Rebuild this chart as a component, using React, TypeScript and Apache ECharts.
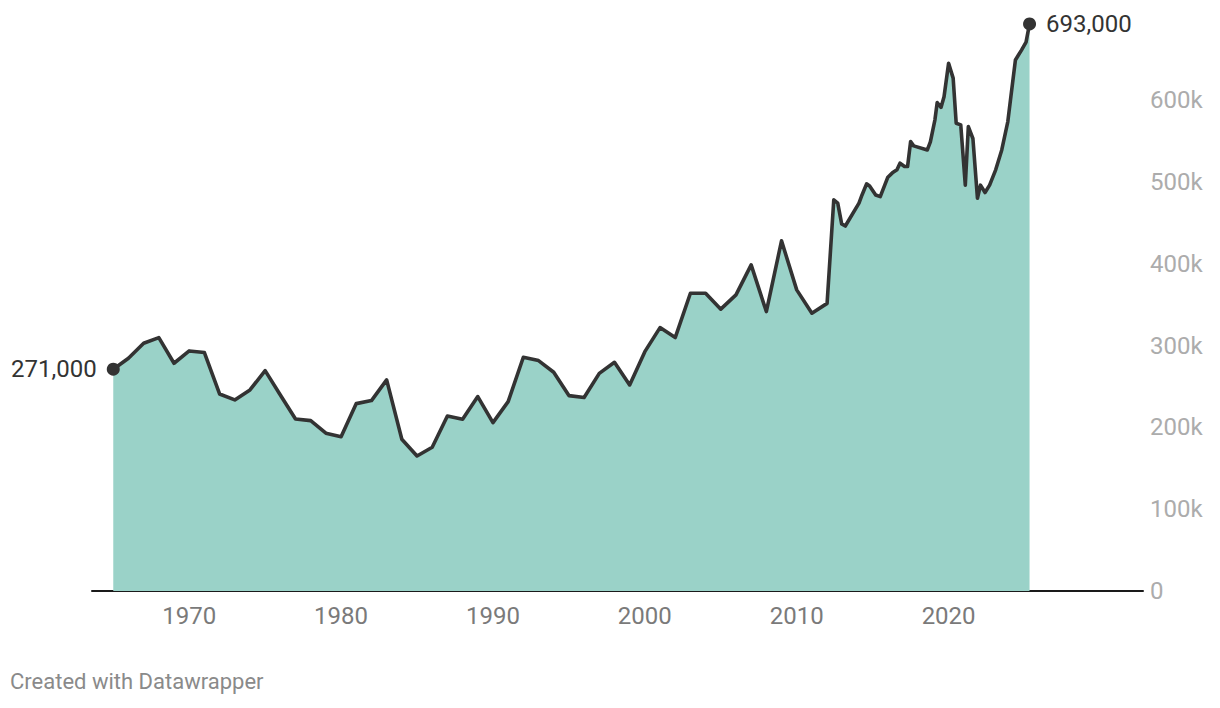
import React, { useEffect, useRef } from "react";
import * as echarts from "echarts";

const years: number[] = [
  1965, 1966, 1967, 1968, 1969, 1970, 1971, 1972, 1973, 1974, 1975, 1976, 1977, 1978, 1979,
  1980, 1981, 1982, 1983, 1984, 1985, 1986, 1987, 1988, 1989, 1990, 1991, 1992, 1993, 1994,
  1995, 1996, 1997, 1998, 1999, 2000, 2001, 2002, 2003, 2004, 2005, 2006, 2007, 2008, 2009,
  2010, 2011, 2012,
  2012.44, 2012.7, 2012.96, 2013.2, 2014.1, 2014.3, 2014.6, 2014.8, 2015.2, 2015.5,
  2016.0, 2016.3, 2016.6, 2016.8, 2017.1, 2017.3, 2017.5, 2017.7, 2018.6, 2018.8,
  2019.1, 2019.25, 2019.5, 2019.7, 2020.0, 2020.3, 2020.5, 2020.8, 2021.1, 2021.3,
  2021.6, 2021.9, 2022.1, 2022.4, 2022.7, 2023.1, 2023.5, 2023.9, 2024.1, 2024.4,
  2024.8, 2025.1, 2025.33,
];

const values: number[] = [
  271000, 284500, 302800, 309700, 278300, 293400, 291400, 240800, 233500, 245700, 269300, 239600, 210300, 208200, 192800,
  188600, 229000, 232700, 258000, 185400, 165000, 175600, 213900, 209900, 237600, 205800, 231400, 285700, 281600, 267300,
  238800, 236400, 266000, 279500, 251800, 292500, 321900, 309700, 363900, 363900, 344400, 361900, 398500, 341500, 427900,
  368000, 339500, 351500,
  478000, 474000, 448600, 446000, 474000, 484000, 497600, 495000, 484000, 482000,
  505700, 511000, 514700, 522800, 518700, 518700, 549300, 544000, 539000, 549000,
  575800, 597000, 591000, 604000, 645000, 626800, 571700, 569700, 496000, 567600,
  553000, 480000, 496000, 487000, 496000, 514700, 539000, 573700, 604000, 649000,
  661000, 670700, 693000,
];

const xTickLabels: number[] = [1970, 1980, 1990, 2000, 2010, 2020];
const yTickValues: number[] = [0, 100000, 200000, 300000, 400000, 500000, 600000];
const yTickLabels: string[] = ["0", "100k", "200k", "300k", "400k", "500k", "600k"];

export default function App() {
  const ref = useRef<HTMLDivElement>(null);
  useEffect(() => {
    if (!ref.current) return;
    const chart = echarts.init(ref.current, undefined, { renderer: "svg" });
    const data = years.map((y, i) => [y, values[i]]);
    const last = data.length - 1;
    chart.setOption({
      animation: false,
      textStyle: { fontFamily: "Roboto" },
      grid: { left: 92, right: 77, top: 18.2, bottom: 117, containLabel: false },
      xAxis: {
        type: "value",
        min: 1963.6,
        max: 2032.8,
        axisLine: { show: true, lineStyle: { color: "#1a1a1a", width: 2 } },
        axisTick: { show: false },
        splitLine: { show: false },
        axisLabel: {
          customValues: xTickLabels,
          color: "#7a7a7a",
          fontSize: 24,
          fontFamily: "Roboto",
          margin: 13,
          formatter: (v: number) => String(Math.round(v)),
        },
      },
      yAxis: {
        type: "value",
        position: "right",
        min: 0,
        max: 700000,
        axisLine: { show: false },
        axisTick: { show: false },
        splitLine: { show: false },
        axisLabel: {
          customValues: yTickValues,
          color: "#acacac",
          fontSize: 24,
          fontFamily: "Roboto",
          margin: 7,
          align: "left",
          formatter: (v: number) => {
            const i = yTickValues.indexOf(v);
            return i >= 0 ? yTickLabels[i] : "";
          },
        },
      },
      series: [
        {
          type: "line",
          data,
          showSymbol: false,
          lineStyle: { color: "#333333", width: 3.6, join: "round" },
          areaStyle: { color: "#9ad2c8", opacity: 1 },
          z: 2,
        },
        {
          type: "scatter",
          data: [
            { value: data[0], label: { position: "left", distance: 10 } },
            { value: data[last], label: { position: "right", distance: 10 } },
          ],
          symbolSize: 13,
          itemStyle: { color: "#333333", opacity: 1 },
          label: {
            show: true,
            color: "#333333",
            fontSize: 24,
            fontFamily: "Roboto",
            formatter: (p: any) => Number(p.value[1]).toLocaleString("en-US"),
          },
          z: 5,
        },
      ],
      graphic: [
        {
          type: "text",
          left: 10,
          top: 670,
          style: {
            text: "Created with Datawrapper",
            fill: "#8a8a8a",
            fontSize: 22,
            fontFamily: "Roboto",
          },
        },
      ],
    });
    return () => chart.dispose();
  }, []);
  return <div ref={ref} style={{ width: 1220, height: 708, position: "absolute", left: 0, top: 0 }} />;
}
